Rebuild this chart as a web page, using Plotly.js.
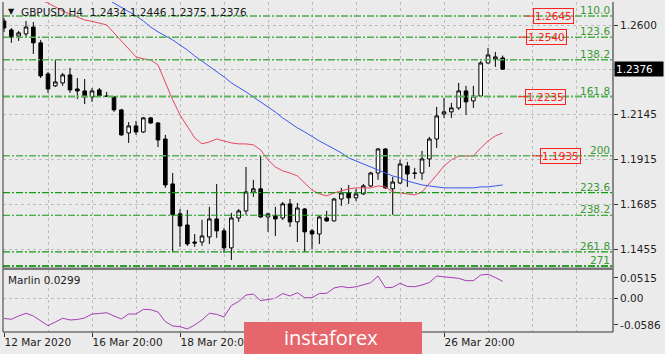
<!DOCTYPE html>
<html><head><meta charset="utf-8">
<script src="https://cdn.plot.ly/plotly-3.0.1.min.js"></script>
<style>html,body{margin:0;padding:0;background:#ebebeb;}#chart{width:665px;height:354px;}</style>
</head><body><div id="chart"></div>
<script>
// ---- data ----
const opens = [1.2623,1.2577,1.2546,1.2557,1.2592,1.2511,1.2352,1.2291,1.2306,1.2347,
 1.2275,1.2265,1.2234,1.2270,1.2239,1.2234,1.2168,1.2050,1.2086,1.2055,
 1.2127,1.2101,1.2019,1.1789,1.1636,1.1579,1.1492,1.1492,1.1518,1.1610,
 1.1549,1.1462,1.1615,1.1651,1.1748,1.1764,1.1620,1.1625,1.1615,1.1687,
 1.1595,1.1661,1.1549,1.1533,1.1615,1.1600,1.1712,1.1743,1.1718,1.1738,
 1.1779,1.1845,1.1968,1.1764,1.1794,1.1881,1.1845,1.1845,1.1917,1.2019,
 1.2147,1.2158,1.2178,1.2265,1.2214,1.2239,1.2408,1.2429,1.2434];
const highs = [1.2638,1.2587,1.2572,1.2623,1.2618,1.2526,1.2362,1.2424,1.2357,1.2383,
 1.2331,1.2326,1.2280,1.2280,1.2260,1.2239,1.2173,1.2106,1.2112,1.2132,
 1.2132,1.2106,1.2040,1.1845,1.1661,1.1656,1.1533,1.1605,1.1672,1.1789,
 1.1564,1.1641,1.1661,1.1876,1.1810,1.1932,1.1641,1.1672,1.1697,1.1712,
 1.1692,1.1666,1.1559,1.1625,1.1651,1.1718,1.1769,1.1784,1.1764,1.1789,
 1.1851,1.1973,1.1973,1.1825,1.1912,1.1902,1.1871,1.1958,1.2030,1.2183,
 1.2229,1.2204,1.2306,1.2291,1.2291,1.2418,1.2485,1.2464,1.2446];
const lows = [1.2567,1.2511,1.2521,1.2541,1.2454,1.2331,1.2255,1.2285,1.2291,1.2255,
 1.2224,1.2198,1.2209,1.2234,1.2234,1.2158,1.2035,1.1999,1.2040,1.2050,
 1.2096,1.1978,1.1769,1.1441,1.1467,1.1472,1.1467,1.1472,1.1482,1.1513,
 1.1436,1.1400,1.1595,1.1631,1.1723,1.1615,1.1544,1.1523,1.1605,1.1569,
 1.1492,1.1441,1.1457,1.1482,1.1595,1.1597,1.1677,1.1687,1.1702,1.1733,
 1.1774,1.1810,1.1764,1.1631,1.1789,1.1774,1.1815,1.1810,1.1876,1.1973,
 1.2127,1.2127,1.2168,1.2142,1.2178,1.2234,1.2405,1.2388,1.2375];
const closes = [1.2587,1.2541,1.2562,1.2592,1.2511,1.2342,1.2275,1.2311,1.2347,1.2270,
 1.2265,1.2234,1.2265,1.2239,1.2237,1.2168,1.2040,1.2086,1.2055,1.2127,
 1.2101,1.2014,1.1784,1.1631,1.1574,1.1482,1.1487,1.1523,1.1610,1.1549,
 1.1462,1.1615,1.1651,1.1748,1.1764,1.1620,1.1636,1.1610,1.1687,1.1595,
 1.1666,1.1544,1.1533,1.1620,1.1600,1.1712,1.1743,1.1718,1.1738,1.1779,
 1.1845,1.1968,1.1769,1.1799,1.1891,1.1840,1.1843,1.1917,1.2019,1.2137,
 1.2158,1.2178,1.2265,1.2209,1.2239,1.2408,1.2449,1.2439,1.2376];
const maRed = [1.2807,1.2792,1.2777,1.2761,1.2746,1.2731,1.2715,1.2695,1.2674,1.2659,
 1.2644,1.2628,1.2621,1.2613,1.2603,1.2562,1.2521,1.2475,1.2439,1.2429,
 1.2424,1.2398,1.2311,1.2219,1.2142,1.2081,1.2025,1.1994,1.2004,1.2019,
 1.2009,1.1999,1.1994,1.1994,1.1989,1.1963,1.1912,1.1876,1.1856,1.1845,
 1.1830,1.1794,1.1758,1.1738,1.1728,1.1743,1.1753,1.1764,1.1769,1.1769,
 1.1769,1.1779,1.1774,1.1748,1.1743,1.1738,1.1733,1.1748,1.1789,1.1835,
 1.1881,1.1912,1.1932,1.1932,1.1932,1.1973,1.2009,1.2035,1.2050];
const maBlue = [null,null,null,null,null,null,null,null,null,null,
 null,null,null,null,1.2736,1.2715,1.2695,1.2674,1.2649,1.2623,
 1.2592,1.2567,1.2546,1.2526,1.2500,1.2475,1.2444,1.2418,1.2388,1.2362,
 1.2337,1.2306,1.2285,1.2260,1.2234,1.2209,1.2183,1.2157,1.2127,1.2101,
 1.2076,1.2055,1.2030,1.2009,1.1989,1.1968,1.1948,1.1922,1.1907,1.1891,
 1.1876,1.1861,1.1845,1.1830,1.1820,1.1804,1.1794,1.1784,1.1779,1.1774,
 1.1769,1.1769,1.1769,1.1769,1.1769,1.1774,1.1774,1.1779,1.1784];
const marlin = [-0.0348,-0.0362,-0.0304,-0.0257,-0.0304,-0.0391,-0.0473,-0.0409,-0.0344,-0.0374,
 -0.0365,-0.0339,-0.0270,-0.0261,-0.0247,-0.0304,-0.0357,-0.0270,-0.0270,-0.0188,
 -0.0195,-0.0235,-0.0403,-0.0478,-0.0490,-0.0530,-0.0461,-0.0374,-0.0257,-0.0275,
 -0.0322,-0.0122,-0.0052,0.0061,0.0078,-0.0038,-0.0014,0.0003,0.0087,0.0043,
 0.0101,0.0014,0.0014,0.0087,0.0090,0.0183,0.0209,0.0188,0.0203,0.0235,
 0.0275,0.0391,0.0188,0.0195,0.0264,0.0209,0.0205,0.0235,0.0278,0.0391,
 0.0379,0.0369,0.0351,0.0310,0.0310,0.0409,0.0421,0.0365,0.0299];
const fibLevels = ['110.0','123.6','138.2','161.8','200','223.6','238.2','261.8','271'];
const fibPrices = [1.2648,1.2540,1.2424,1.2236,1.1933,1.1745,1.1629,1.1442,1.1369];
const boxLabels = ['1.2645','1.2540','1.2235','1.1935'];
const boxPrices = [1.2648,1.2540,1.2236,1.1933];
const priceTicks = [1.1455,1.1685,1.1915,1.2145,1.2375,1.2600];
const priceTickText = ['1.1455','1.1685','1.1915','1.2145','','1.2600'];
const timeTickBars = [0,12,24,60];
const timeTickText = ['12 Mar 2020','16 Mar 20:00','18 Mar 20:00','26 Mar 20:00'];
const marlinTickText = ['0.0515','0.00','-0.0586'];
const symbol = 'GBPUSD,H4';
const indicatorName = 'Marlin';
const lastPrice = 1.2376;

// ---- presentation ----
const bars = opens.map((_, i) => i);
const FONT = 'DejaVu Sans';
const px = p => (p - 3) / 610;          // pixel x -> paper x
const py = p => (332 - p) / 330;        // pixel y -> paper y
const fibColors = ['#4fae4f','#4fae4f','#4fae4f','#5cb35c','#5cb35c','#159a15','#159a15','#159a15','#2e9e2e'];
const fibWidths = [1.5,1.5,1.5,2,1.5,1.2,1.2,1.2,2];
const boxSegX = [[525,535],[518,528],[518,528],[532,542]];
const boxCenterX = [553.5,546,545.5,560.5];
const marlinTickPos = [0.0357,0,-0.0461];

const traces = [
  {type:'candlestick', x:bars, open:opens, high:highs, low:lows, close:closes,
   xaxis:'x', yaxis:'y', whiskerwidth:0, hoverinfo:'skip',
   increasing:{line:{color:'#000',width:1}, fillcolor:'#ffffff'},
   decreasing:{line:{color:'#000',width:1}, fillcolor:'#000000'}},
  {type:'scatter', mode:'lines', x:bars, y:maRed, xaxis:'x', yaxis:'y',
   line:{color:'#e8475f', width:1}, hoverinfo:'skip'},
  {type:'scatter', mode:'lines', x:bars, y:maBlue, xaxis:'x', yaxis:'y',
   line:{color:'#3b57ee', width:1}, hoverinfo:'skip'},
  {type:'scatter', mode:'lines', x:bars, y:marlin, xaxis:'x', yaxis:'y2',
   line:{color:'#a63db5', width:1}, hoverinfo:'skip'}
];

const shapes = [];
const annotations = [];
fibPrices.forEach((p, i) => {
  shapes.push({type:'line', xref:'paper', yref:'y', x0:0, x1:1, y0:p, y1:p,
    line:{color:fibColors[i], width:fibWidths[i], dash:'7px,2px,2px,2px'}});
  annotations.push({xref:'paper', yref:'y', x:1, y:p, xanchor:'right', yanchor:'bottom',
    xshift:-1, yshift:-2, text:fibLevels[i], showarrow:false,
    font:{family:FONT, size:10.5, color:'#3a9a32'}});
});
boxPrices.forEach((p, i) => {
  shapes.push({type:'line', xref:'paper', yref:'y', x0:px(boxSegX[i][0]), x1:px(boxSegX[i][1]), y0:p, y1:p,
    line:{color:'#ff3030', width:1}});
  annotations.push({xref:'paper', yref:'y', x:px(boxCenterX[i]), y:p, xanchor:'center', yanchor:'middle',
    text:boxLabels[i], showarrow:false, bordercolor:'#ff2020', borderwidth:1, borderpad:1,
    font:{family:FONT, size:10.5, color:'#ff2020'}});
});
// zero dashed line in indicator
shapes.push({type:'line', xref:'paper', yref:'y2', x0:0, x1:1, y0:0, y1:0,
  line:{color:'#bdbdbd', width:1, dash:'3px,3px'}});
// frame
shapes.push({type:'line', xref:'paper', yref:'paper', x0:0, x1:0, y0:0, y1:1, line:{color:'#333', width:1}});
shapes.push({type:'line', xref:'paper', yref:'paper', x0:1, x1:1, y0:0, y1:1, line:{color:'#666', width:1.5}});
shapes.push({type:'line', xref:'paper', yref:'paper', x0:0, x1:1, y0:0, y1:0, line:{color:'#333', width:1}});
shapes.push({type:'rect', xref:'paper', yref:'paper', x0:0, x1:1, y0:py(270), y1:py(267.5),
  fillcolor:'#777', line:{width:0}});
// watermark
shapes.push({type:'rect', xref:'paper', yref:'paper', layer:'above', x0:px(244), x1:px(422), y0:py(354), y1:py(322),
  fillcolor:'#e5676b', line:{width:0}});
annotations.push({xref:'paper', yref:'paper', x:px(331), y:py(338), text:'instaforex', showarrow:false,
  xanchor:'center', yanchor:'middle', font:{family:'Open Sans', size:20, color:'#ffffff'}});

// title
annotations.push({xref:'paper', yref:'paper', x:px(6), y:py(12), xanchor:'left', yanchor:'middle',
  text:'▼', showarrow:false, font:{family:FONT, size:8, color:'#111'}});
annotations.push({xref:'paper', yref:'paper', x:px(19), y:py(12), xanchor:'left', yanchor:'middle',
  text:symbol + '  ' + [opens[68], highs[68], lows[68], closes[68]].map(v => v.toFixed(4)).join(' '),
  showarrow:false, font:{family:FONT, size:10.5, color:'#1a1a1a'}});
annotations.push({xref:'paper', yref:'paper', x:px(6), y:py(280), xanchor:'left', yanchor:'middle',
  text:indicatorName + ' ' + marlin[marlin.length-1].toFixed(4), showarrow:false,
  font:{family:FONT, size:10.5, color:'#1a1a1a'}});
// current price box
annotations.push({xref:'paper', yref:'y', x:1, y:lastPrice, xanchor:'left', yanchor:'middle', xshift:1,
  text:lastPrice.toFixed(4), showarrow:false, bgcolor:'#000', borderpad:1, width:46, align:'left',
  font:{family:FONT, size:10.5, color:'#fff'}});

const layout = {
  width:665, height:354,
  margin:{l:3, r:52, t:2, b:22, pad:0},
  paper_bgcolor:'#ebebeb', plot_bgcolor:'#ebebeb',
  showlegend:false, dragmode:false,
  font:{family:FONT, size:10.5, color:'#1e1e1e'},
  xaxis:{anchor:'y2', range:[-0.136, 83.04], tickmode:'array', tickvals:timeTickBars, ticktext:timeTickText,
    ticks:'outside', ticklen:4, tickcolor:'#333', ticklabelposition:'outside right',
    showgrid:false, zeroline:false, showline:false, rangeslider:{visible:false},
    minor:{tickmode:'linear', tick0:0, dtick:6, showgrid:true, gridcolor:'#bdbdbd', griddash:'3px,3px', ticks:''},
    tickfont:{family:FONT, size:10.5, color:'#1e1e1e'}},
  yaxis:{domain:[py(268), 1], range:[1.1359, 1.2720], side:'right', tickmode:'array',
    tickvals:priceTicks, ticktext:priceTickText, ticks:'outside', ticklen:4, tickcolor:'#333',
    showgrid:true, gridcolor:'#bdbdbd', griddash:'3px,3px', zeroline:false, showline:false,
    tickfont:{family:FONT, size:10.5, color:'#1e1e1e'}},
  yaxis2:{domain:[0, py(270)], range:[-0.0583, 0.0496], side:'right', tickmode:'array',
    tickvals:marlinTickPos, ticktext:marlinTickText, ticks:'outside', ticklen:4, tickcolor:'#333',
    showgrid:false, zeroline:false, showline:false,
    tickfont:{family:FONT, size:10.5, color:'#1e1e1e'}},
  shapes:shapes, annotations:annotations
};
Plotly.newPlot('chart', traces, layout, {staticPlot:true, displayModeBar:false});
</script></body></html>
